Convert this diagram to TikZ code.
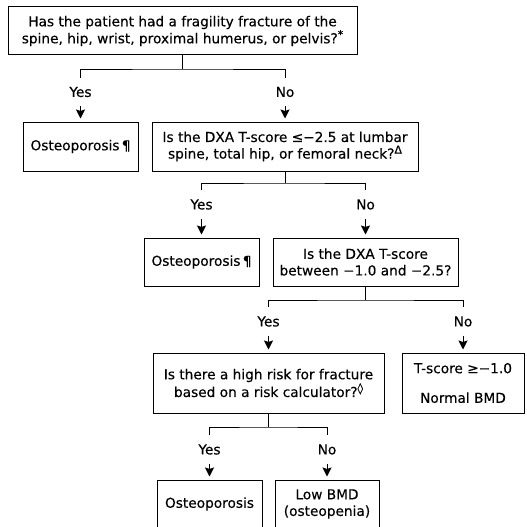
\documentclass[tikz,border=0pt]{standalone}
\usepackage{fontspec}
\setmainfont{DejaVu Sans}[BoldFont=DejaVu Sans, BoldFeatures={FakeBold=0.35}]
\usetikzlibrary{arrows.meta}
\newcommand{\supmark}[1]{\raisebox{5pt}{\fontsize{11}{11}\selectfont #1}}
\begin{document}
\begin{tikzpicture}[x=1pt,y=-1pt,
  txt/.style={font=\fontsize{13.7}{16.6}\selectfont\bfseries},
  box/.style={txt, draw, line width=1pt, align=center, inner sep=0pt},
  lbl/.style={txt, inner sep=0pt, minimum height=28pt},
  conn/.style={line width=1pt},
  arr/.style={line width=1pt, -{Stealth[length=9pt,width=9pt,inset=1.5pt]}, shorten >=3pt}
]
\useasboundingbox (0,0) rectangle (527,527);
\begin{scope}
\clip (0,0) rectangle (527,527);
% boxes
\node[box, font=\fontsize{13.7}{14.3}\selectfont\bfseries, minimum width=349pt, minimum height=48pt] (q1) at (182.5,31)
  {Has the patient had a fragility fracture of the\\spine, hip, wrist, proximal humerus, or pelvis?\supmark{*}};
\node[box, minimum width=115pt, minimum height=49pt] (o1) at (80.5,146.5) {Osteoporosis\,¶};
\node[box, minimum width=266pt, minimum height=49pt] (q2) at (285,146.5)
  {Is the DXA T-score ≤−2.5 at lumbar\\spine, total hip, or femoral neck?\supmark{Δ}};
\node[box, minimum width=115pt, minimum height=48pt] (o2) at (201.5,262) {Osteoporosis\,¶};
\node[box, minimum width=185pt, minimum height=48pt] (q3) at (365.5,262)
  {Is the DXA T-score\\between −1.0 and −2.5?};
\node[box, minimum width=231pt, minimum height=60pt] (q4) at (268.5,383)
  {Is there a high risk for fracture\\based on a risk calculator?\supmark{◊}};
\node[box, minimum width=122pt, minimum height=60pt] (t) at (463,383)
  {T-score ≥−1.0\\[13pt]Normal BMD};
\node[box, minimum width=105pt, minimum height=48pt] (o3) at (209.5,504) {Osteoporosis};
\node[box, minimum width=104pt, minimum height=48pt] (lo) at (327,504) {Low BMD\\(osteopenia)};
% labels
\node[lbl] (y1) at (80.5,92) {Yes};
\node[lbl] (n1) at (285,92) {No};
\node[lbl] (y2) at (201.5,204.5) {Yes};
\node[lbl] (n2) at (365.5,204.5) {No};
\node[lbl] (y3) at (268.5,321.5) {Yes};
\node[lbl] (n3) at (463,321.5) {No};
\node[lbl] (y4) at (209.5,449.5) {Yes};
\node[lbl] (n4) at (327,449.5) {No};
% junctions
\coordinate (j1) at (182.5,69);
\coordinate (j2) at (285,183);
\coordinate (j3) at (365.5,300);
\coordinate (j4) at (268.5,427);
% connectors
\draw[conn] (q1.south) -- (j1);
\draw[conn] (y1.north) |- (j1) -| (n1.north);
\draw[arr] (y1.south) -- (o1.north);
\draw[arr] (n1.south) -- (q2.north);
\draw[conn] (q2.south) -- (j2);
\draw[conn] (y2.north) |- (j2) -| (n2.north);
\draw[arr] (y2.south) -- (o2.north);
\draw[arr] (n2.south) -- (q3.north);
\draw[conn] (q3.south) -- (j3);
\draw[conn] (y3.north) |- (j3) -| (n3.north);
\draw[arr] (y3.south) -- (q4.north);
\draw[arr] (n3.south) -- (t.north);
\draw[conn] (q4.south) -- (j4);
\draw[conn] (y4.north) |- (j4) -| (n4.north);
\draw[arr] (y4.south) -- (o3.north);
\draw[arr] (n4.south) -- (lo.north);
\end{scope}
\end{tikzpicture}
\end{document}
